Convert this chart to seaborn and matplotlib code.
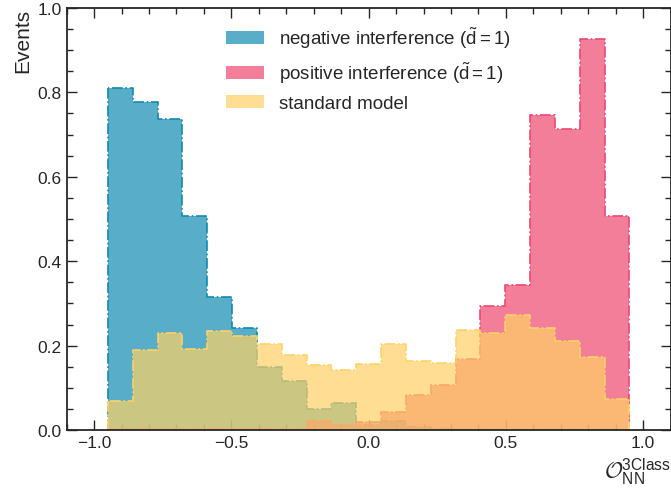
import numpy as np
import pandas as pd
import matplotlib
matplotlib.use("Agg")
import matplotlib.pyplot as plt
from matplotlib.patches import Patch
from matplotlib.ticker import MultipleLocator
import seaborn as sns

# ---- data ----
bin_edges = list(np.linspace(-0.95, 0.95, 22))
negative_interference = [0.810, 0.777, 0.736, 0.508, 0.316, 0.242, 0.150, 0.116, 0.050, 0.064,
                         0.012, 0.022, 0.007, 0.002, 0.0, 0.0, 0.0, 0.0, 0.0, 0.0, 0.0]
positive_interference = [0.002, 0.002, 0.002, 0.002, 0.002, 0.002, 0.003, 0.003, 0.022, 0.012,
                         0.020, 0.043, 0.082, 0.107, 0.168, 0.295, 0.344, 0.746, 0.713, 0.927, 0.507]
standard_model = [0.069, 0.190, 0.231, 0.193, 0.235, 0.222, 0.203, 0.178, 0.153, 0.143,
                  0.156, 0.203, 0.163, 0.158, 0.238, 0.229, 0.273, 0.242, 0.210, 0.174, 0.074]
labels = [r"negative interference ($\tilde{\mathrm{d}}=1$)",
          r"positive interference ($\tilde{\mathrm{d}}=1$)",
          "standard model"]
colors = ["#118AB2", "#EF476F", "#FFD166"]

sns.set_style("ticks")
plt.rcParams["font.family"] = ["Liberation Sans", "DejaVu Sans"]
plt.rcParams["mathtext.fontset"] = "custom"
plt.rcParams["mathtext.rm"] = "Liberation Sans"
plt.rcParams["mathtext.it"] = "Liberation Sans:italic"
plt.rcParams["mathtext.bf"] = "Liberation Sans:bold"
plt.rcParams["mathtext.cal"] = "cmsy10"

centers = [0.5 * (a + b) for a, b in zip(bin_edges[:-1], bin_edges[1:])]

fig = plt.figure(figsize=(6.71, 4.89), dpi=100)
ax = fig.add_axes([0.0994, 0.1186, 0.8999, 0.863])

for vals, col, lab in zip([negative_interference, positive_interference, standard_model], colors, labels):
    df = pd.DataFrame({"x": centers, "w": vals})
    sns.histplot(data=df, x="x", weights="w", bins=bin_edges, element="step", fill=True,
                 color=col, alpha=0.7, linestyle="-.", linewidth=1.2, ax=ax)

ax.set_xlim(-1.1, 1.1)
ax.set_ylim(0, 1.0)
ax.xaxis.set_major_locator(MultipleLocator(0.5))
ax.xaxis.set_minor_locator(MultipleLocator(0.1))
ax.yaxis.set_major_locator(MultipleLocator(0.2))
ax.yaxis.set_minor_locator(MultipleLocator(0.05))
ax.tick_params(which="both", direction="in", top=True, right=True, width=1.0, labelsize=12.5)
ax.tick_params(which="major", length=7)
ax.tick_params(which="minor", length=4)
for s in ax.spines.values():
    s.set_linewidth(1.3)

ax.set_ylabel("Events", loc="top", fontsize=15)
ax.set_xlabel(r"$\mathcal{O}_{\mathrm{NN}}^{\mathrm{3Class}}$", loc="right", fontsize=16)

handles = [Patch(facecolor=c, alpha=0.7, edgecolor="none") for c in colors]
ax.legend(handles, labels, loc="upper center", frameon=False, fontsize=13.5)

fig.savefig("out.png", dpi=100)
